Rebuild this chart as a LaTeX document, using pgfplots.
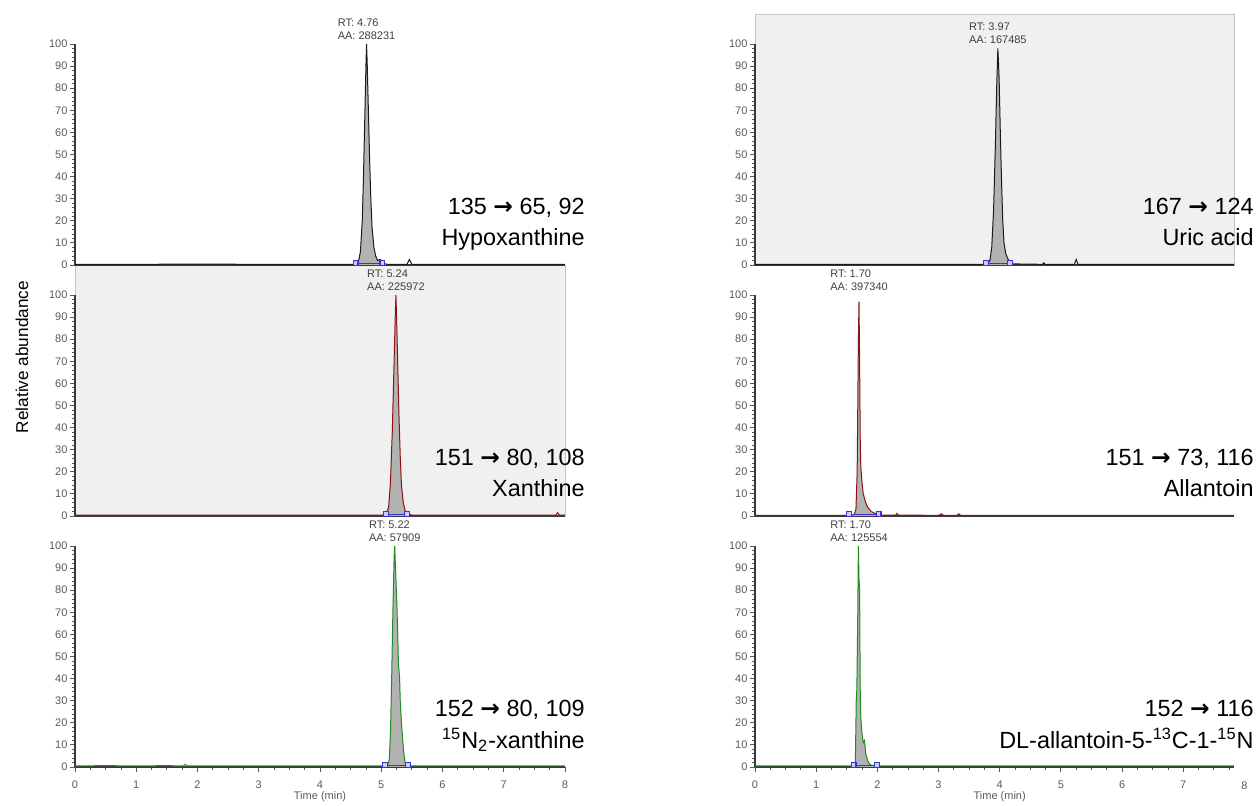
\documentclass[border=0pt]{standalone}
\usepackage{pgfplots}
\usepackage{pgfplotstable}
\pgfplotsset{compat=1.18}
\usepackage{fontspec}
\setmainfont{Liberation Sans}
\newfontfamily\arrowfont{DejaVu Sans}

\definecolor{tickcol}{HTML}{5A5A5A}
\definecolor{rtcol}{HTML}{404040}
\definecolor{axcol}{HTML}{3A3A3A}
\definecolor{cellbg}{HTML}{F0F0F0}
\definecolor{cellborder}{HTML}{C4C4C4}
\definecolor{peakfill}{HTML}{B2B2B2}
\definecolor{trblack}{HTML}{1A1A1A}
\definecolor{trred}{HTML}{8B1212}
\definecolor{trgreen}{HTML}{1E8C1E}
\definecolor{intblue}{HTML}{3535D5}

\newcommand{\tickfont}{\fontsize{5.5}{6.5}\selectfont}
\newcommand{\annfont}{\fontsize{11.7}{14}\selectfont}
\newcommand{\arr}{{\arrowfont\bfseries →}}

% ---------------- data (time in min, relative abundance in %) ----------------
\pgfplotstableread{
t y
0 0.3
1.0 0.3
2.0 0.4
3.0 0.3
4.0 0.3
4.55 0.3
4.62 0.5
4.66 6
4.69 20
4.71 40
4.73 65
4.75 90
4.76 100
4.77 92
4.79 70
4.81 48
4.83 30
4.85 17
4.88 8
4.91 4
4.94 2
4.98 2.5
5.01 2
5.05 0.6
5.10 0.3
5.42 0.3
5.46 2.5
5.50 0.3
6.0 0.3
7.0 0.3
8.0 0.3
}\hypo

\pgfplotstableread{
t y
0 0.4
1 0.4
2 0.4
3 0.4
4 0.4
5.0 0.4
5.08 0.6
5.12 4
5.15 15
5.18 38
5.21 70
5.23 92
5.24 100
5.25 90
5.27 68
5.29 45
5.31 27
5.33 14
5.36 6
5.39 2.5
5.43 1
5.50 0.4
6 0.4
7 0.4
7.85 0.4
7.88 1.5
7.91 0.4
8 0.4
}\xan

\pgfplotstableread{
t y
0 0.5
0.5 0.6
1 0.5
1.5 0.6
1.77 0.5
1.80 1.2
1.83 0.5
2.5 0.5
3 0.5
4 0.5
5.05 0.5
5.10 0.8
5.13 3
5.15 15
5.17 40
5.19 70
5.21 95
5.22 100
5.23 92
5.25 78
5.27 60
5.28 47
5.30 40
5.31 30
5.33 20
5.35 12
5.37 6
5.39 2
5.42 0.8
5.50 0.5
6 0.5
7 0.5
8 0.5
}\xanlab

\pgfplotstableread{
t y
0 0.3
1 0.3
2 0.3
3 0.3
3.75 0.3
3.80 0.6
3.84 2
3.87 8
3.90 25
3.93 55
3.95 80
3.97 98
3.99 85
4.01 60
4.03 38
4.05 20
4.07 10
4.10 5
4.13 3
4.16 1.5
4.20 0.5
4.70 0.3
4.72 1
4.74 0.3
5.22 0.3
5.25 2.5
5.28 0.3
6 0.3
7 0.3
7.83 0.3
}\uric

\pgfplotstableread{
t y
0 0.3
1 0.3
1.5 0.3
1.55 0.4
1.62 0.6
1.65 3
1.67 20
1.68 50
1.69 80
1.70 97
1.71 70
1.72 35
1.73 22
1.75 15
1.77 10
1.79 8
1.81 6
1.84 4
1.87 3
1.90 2
1.94 1.5
2.00 0.6
2.10 0.4
2.30 0.4
2.32 1.2
2.34 0.4
3.00 0.3
3.05 1
3.08 0.3
3.30 0.3
3.33 1
3.36 0.3
4 0.3
5 0.3
6 0.3
7 0.3
7.83 0.3
}\allan

\pgfplotstableread{
t y
0 0.5
1 0.5
1.5 0.5
1.60 0.6
1.64 1.5
1.655 30
1.665 35
1.68 70
1.69 100
1.70 85
1.71 80
1.72 35
1.73 22
1.75 15
1.77 11
1.79 12
1.81 6
1.84 3
1.88 1
1.95 0.6
2.0 0.5
3 0.5
4 0.5
5 0.5
6 0.5
7 0.5
7.83 0.5
}\allanlab

\pgfplotsset{
  /pgf/number format/assume math mode=true,
  chrom/.style={
    scale only axis, width=245pt, height=110.5pt, anchor=south west,
    xmin=0, xmax=8, ymin=0, ymax=100,
    axis x line*=bottom, axis y line*=left,
    axis line style={draw=axcol, line width=0.6pt, -},
    ytick={0,10,...,100}, minor y tick num=4,
    tick align=outside,
    major tick length=2.6pt, minor tick length=1.5pt,
    every tick/.style={draw=tickcol, line width=0.4pt},
    yticklabel style={font=\tickfont, text=tickcol, inner sep=1pt},
    xticklabel style={font=\tickfont, text=tickcol, yshift=-0.8pt},
    xtick=\empty,
    clip=false,
  },
  rightpanel/.style={width=239.5pt, xmax=7.83},
  bottomleft/.style={xtick={0,...,8}, minor x tick num=3},
  bottomright/.style={xtick={0,...,7}, minor xtick={0,0.25,...,7.75}},
}
\tikzset{
  rt/.style={font=\tickfont, text=rtcol, align=left, anchor=south, inner sep=0pt, yshift=2pt},
  ann/.style={font=\annfont, anchor=base east, inner sep=0pt},
}

\begin{document}
\begin{tikzpicture}
\useasboundingbox (0,0) rectangle (629.5pt,-403pt);

% highlighted cells
\filldraw[fill=cellbg, draw=cellborder, line width=0.4pt] (37.5pt,-132.5pt) rectangle (282.5pt,-258pt);
\filldraw[fill=cellbg, draw=cellborder, line width=0.4pt] (377.5pt,-7pt) rectangle (617pt,-132.5pt);

% y label
\node[rotate=90, font=\fontsize{8.6}{10}\selectfont] at (11pt,-178.5pt) {Relative abundance};

% ---------------- left column ----------------
\begin{axis}[chrom, at={(37.5pt,-132.5pt)}]
\addplot[fill=peakfill, draw=none, restrict x to domain=4.55:5.10] table {\hypo} \closedcycle;
\addplot[trblack, line width=0.5pt] table {\hypo};
\addplot[intblue, line width=0.6pt, mark=square*, mark size=1.2pt, mark options={fill=intblue!25}] coordinates {(4.58,0.8) (5.02,0.8)};
\node[rt] at (axis cs:4.76,100) {RT: 4.76\\AA: 288231};
\end{axis}

\begin{axis}[chrom, at={(37.5pt,-258pt)}]
\addplot[fill=peakfill, draw=none, restrict x to domain=5.06:5.45] table {\xan} \closedcycle;
\addplot[trred, line width=0.5pt] table {\xan};
\addplot[intblue, line width=0.6pt, mark=square*, mark size=1.2pt, mark options={fill=intblue!25}] coordinates {(5.08,0.8) (5.42,0.8)};
\node[rt] at (axis cs:5.24,100) {RT: 5.24\\AA: 225972};
\end{axis}

\begin{axis}[chrom, bottomleft, at={(37.5pt,-383.5pt)}]
\addplot[fill=peakfill, draw=none, restrict x to domain=5.04:5.46] table {\xanlab} \closedcycle;
\addplot[trgreen, line width=0.5pt] table {\xanlab};
\addplot[intblue, line width=0.6pt, mark=square*, mark size=1.2pt, mark options={fill=intblue!25}] coordinates {(5.06,0.8) (5.44,0.8)};
\node[rt] at (axis cs:5.22,100) {RT: 5.22\\AA: 57909};
\node[font=\tickfont, text=tickcol] at (axis cs:4,0) [yshift=-15pt] {Time (min)};
\end{axis}

% ---------------- right column ----------------
\begin{axis}[chrom, rightpanel, at={(377.5pt,-132.5pt)}]
\addplot[fill=peakfill, draw=none, restrict x to domain=3.76:4.20] table {\uric} \closedcycle;
\addplot[trblack, line width=0.5pt] table {\uric};
\addplot[intblue, line width=0.6pt, mark=square*, mark size=1.2pt, mark options={fill=intblue!25}] coordinates {(3.78,0.8) (4.17,0.8)};
\node[rt] at (axis cs:3.97,98) {RT: 3.97\\AA: 167485};
\end{axis}

\begin{axis}[chrom, rightpanel, at={(377.5pt,-258pt)}]
\addplot[fill=peakfill, draw=none, restrict x to domain=1.52:2.05] table {\allan} \closedcycle;
\addplot[trred, line width=0.5pt] table {\allan};
\addplot[intblue, line width=0.6pt, mark=square*, mark size=1.2pt, mark options={fill=intblue!25}] coordinates {(1.54,0.8) (2.02,0.8)};
\node[rt] at (axis cs:1.70,100) {RT: 1.70\\AA: 397340};
\end{axis}

\begin{axis}[chrom, rightpanel, bottomright, at={(377.5pt,-383.5pt)}]
\addplot[fill=peakfill, draw=none, restrict x to domain=1.58:2.01] table {\allanlab} \closedcycle;
\addplot[trgreen, line width=0.5pt] table {\allanlab};
\addplot[intblue, line width=0.6pt, mark=square*, mark size=1.2pt, mark options={fill=intblue!25}] coordinates {(1.61,0.8) (1.99,0.8)};
\node[rt] at (axis cs:1.70,100) {RT: 1.70\\AA: 125554};
\node[font=\tickfont, text=tickcol, anchor=north] at (axis cs:8,0) [yshift=-3.7pt] {8};
\node[font=\tickfont, text=tickcol] at (axis cs:4,0) [yshift=-15pt] {Time (min)};
\end{axis}

% ---------------- annotations ----------------
\node[ann] at (292.5pt,-107.5pt) {135 \arr\ 65, 92};
\node[ann] at (292.5pt,-123pt) {Hypoxanthine};
\node[ann] at (292.5pt,-233pt) {151 \arr\ 80, 108};
\node[ann] at (292.5pt,-248.5pt) {Xanthine};
\node[ann] at (292.5pt,-358.5pt) {152 \arr\ 80, 109};
\node[ann] at (292.5pt,-374pt) {\textsuperscript{15}N\textsubscript{2}-xanthine};

\node[ann] at (627pt,-107.5pt) {167 \arr\ 124};
\node[ann] at (627pt,-123pt) {Uric acid};
\node[ann] at (627pt,-233pt) {151 \arr\ 73, 116};
\node[ann] at (627pt,-248.5pt) {Allantoin};
\node[ann] at (627pt,-358.5pt) {152 \arr\ 116};
\node[ann] at (627pt,-374pt) {DL-allantoin-5-\textsuperscript{13}C-1-\textsuperscript{15}N};
\end{tikzpicture}
\end{document}
